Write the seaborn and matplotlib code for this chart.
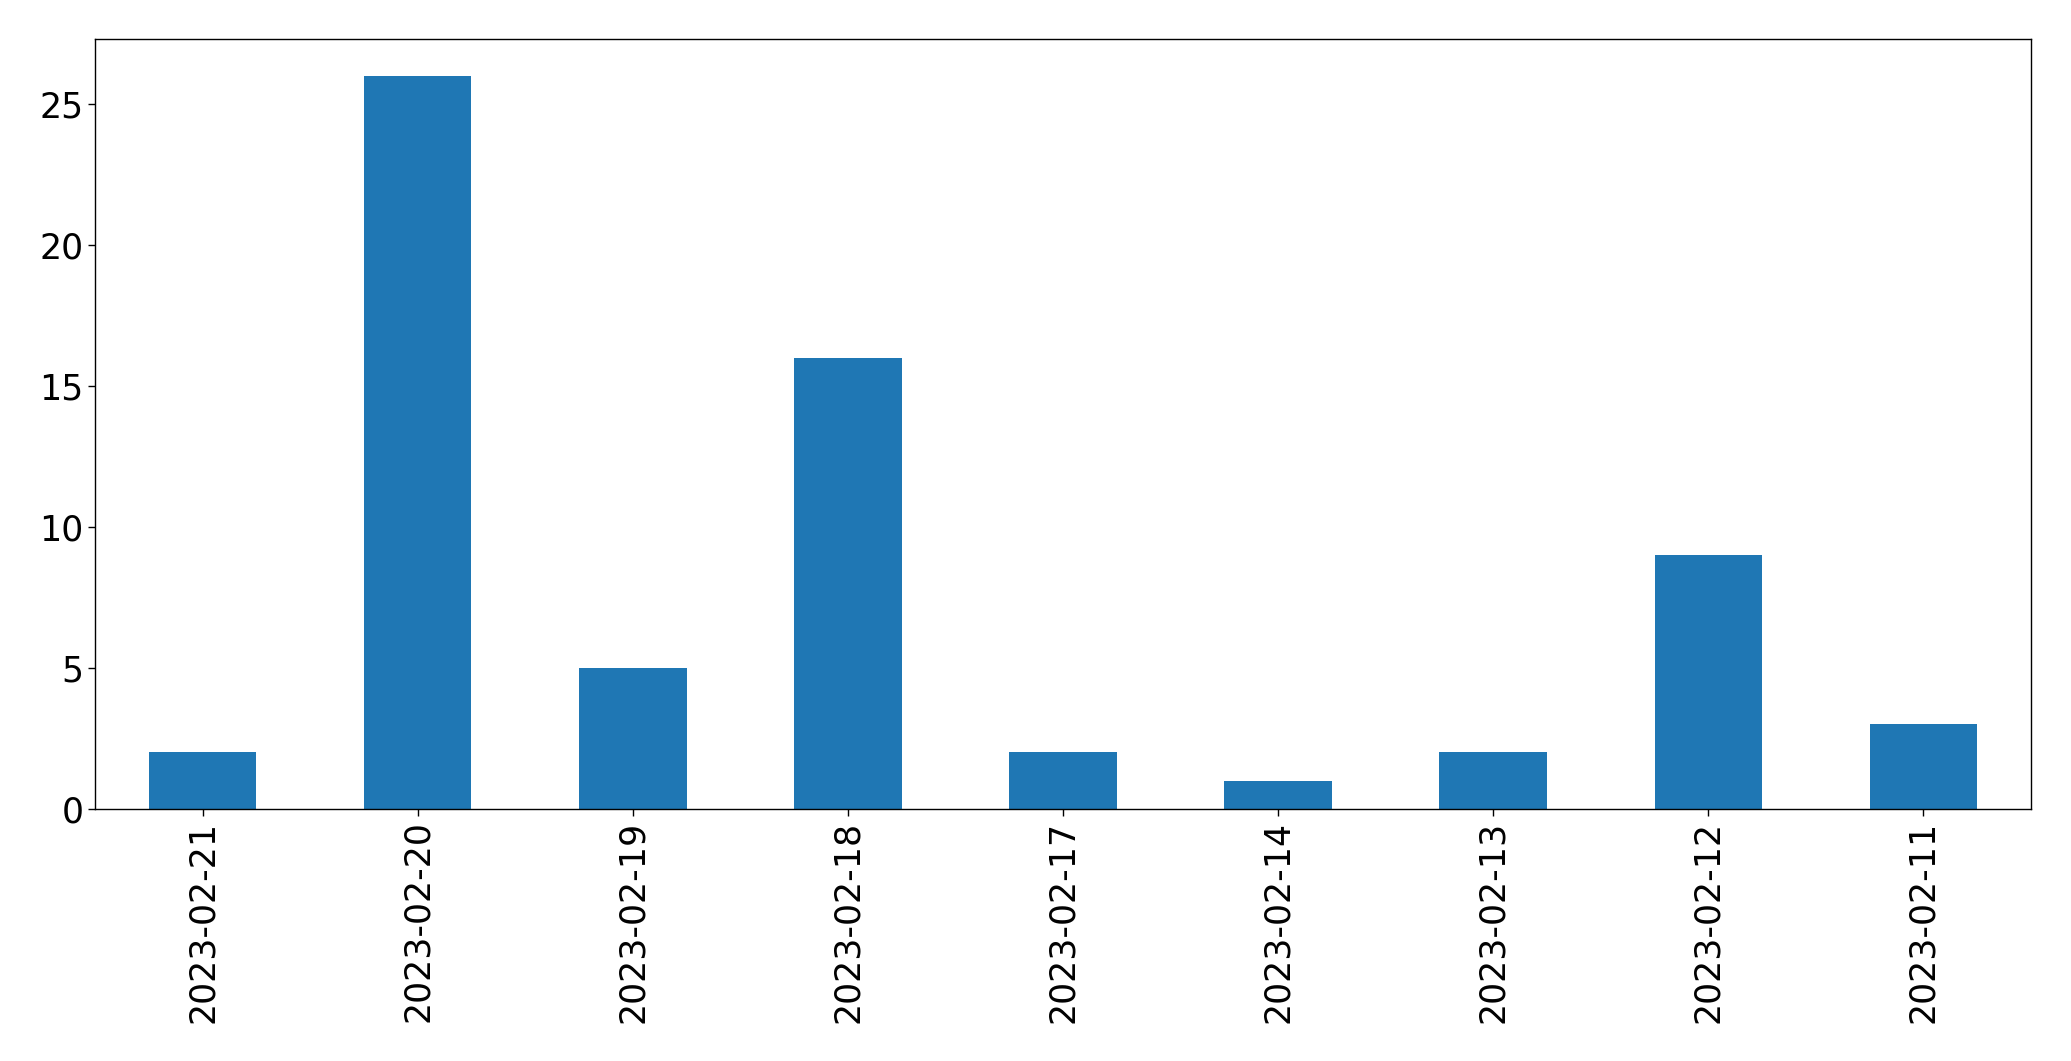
import matplotlib
matplotlib.use('Agg')
import matplotlib.pyplot as plt
import seaborn as sns
import pandas as pd

# Daily counts, newest first (as in the reference)
dates = ['2023-02-21', '2023-02-20', '2023-02-19', '2023-02-18', '2023-02-17',
         '2023-02-14', '2023-02-13', '2023-02-12', '2023-02-11']
counts = [2, 26, 5, 16, 2, 1, 2, 9, 3]

df = pd.DataFrame({'date': dates, 'count': counts})

plt.rcParams['font.family'] = ['DejaVu Sans']

fig = plt.figure(figsize=(20.71, 10.61), dpi=100)
ax = fig.add_axes([0.0459, 0.2377, 0.9348, 0.7255])

sns.barplot(data=df, x='date', y='count', color='#1f77b4', saturation=1,
            width=0.5, order=dates, linewidth=0, ax=ax)

ax.set_xlim(-0.5, len(dates) - 0.5)
ax.set_ylim(0, max(counts) * 1.05)
ax.set_xlabel('')
ax.set_ylabel('')
ax.tick_params(axis='both', labelsize=25, width=1, length=5,
               color='black', labelcolor='black')
ax.tick_params(axis='x', labelrotation=90)
for spine in ax.spines.values():
    spine.set_visible(True)
    spine.set_color('black')
    spine.set_linewidth(1)

fig.savefig('out.png', dpi=100)
